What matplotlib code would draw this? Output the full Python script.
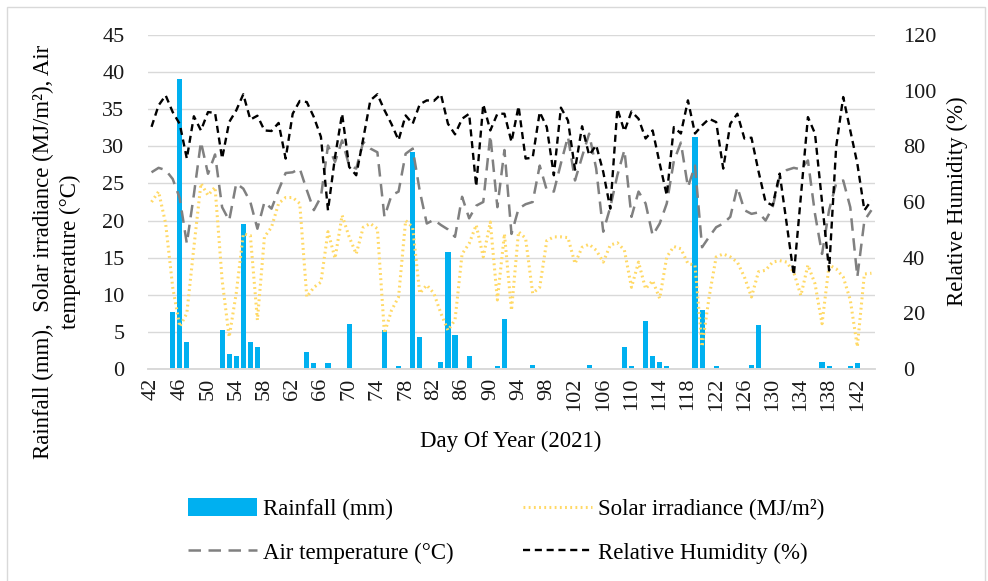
import matplotlib
matplotlib.use("Agg")
import matplotlib.pyplot as plt
from matplotlib.lines import Line2D
from matplotlib.patches import Patch, Rectangle

plt.rcParams["font.family"] = ["Liberation Serif", "DejaVu Serif"]

# Day of year 42..144 (2021)
days = list(range(42, 145))

rain_days = [45, 46, 47, 52, 53, 54, 55, 56, 57, 64, 65, 67, 70, 75, 77, 79, 80,
             83, 84, 85, 87, 91, 92, 96, 104, 109, 110, 112, 113, 114, 115, 119,
             120, 122, 127, 128, 137, 138, 141, 142]
rain_mm = [7.7, 39.1, 3.6, 5.2, 2.0, 1.8, 19.6, 3.6, 2.9, 2.3, 0.8, 0.8, 6.1, 5.2,
           0.4, 29.3, 4.3, 1.0, 15.7, 4.6, 1.8, 0.4, 6.7, 0.5, 0.5, 3.0, 0.4, 6.5,
           1.8, 1.0, 0.4, 31.2, 8.0, 0.4, 0.5, 5.9, 1.0, 0.4, 0.4, 0.8]

solar = [22.5, 23.9, 19.6, 11.0, 5.7, 7.5, 16.4, 25.0, 23.4, 24.5,
         12.0, 4.3, 10.2, 18.2, 18.0, 6.6, 17.8, 19.1, 22.3, 23.1,
         23.1, 22.3, 9.7, 11.0, 11.7, 18.5, 14.9, 20.7, 17.8, 15.5,
         19.1, 19.6, 18.9, 4.8, 7.9, 9.7, 20.0, 19.1, 10.2, 11.3,
         10.2, 7.5, 5.2, 6.6, 15.5, 16.9, 19.4, 15.1, 19.8, 9.3,
         18.2, 7.9, 18.5, 17.6, 10.2, 11.0, 17.3, 17.8, 17.8, 17.7,
         14.2, 16.4, 16.8, 16.0, 14.4, 16.7, 17.0, 16.0, 11.0, 14.4,
         10.8, 11.9, 9.5, 15.1, 16.5, 16.2, 14.2, 14.0, 3.0, 9.7,
         15.1, 15.5, 15.1, 14.4, 12.4, 9.7, 13.1, 13.3, 14.4, 14.6,
         14.4, 13.0, 9.9, 14.0, 11.5, 6.1, 14.0, 13.5, 12.4, 9.3,
         3.0, 12.8, 12.9]

air_temp = [26.5, 27.1, 26.8, 25.6, 23.0, 16.9, 23.5, 30.6, 26.3, 28.9,
            21.8, 20.0, 25.0, 24.3, 22.5, 18.9, 22.5, 21.6, 24.1, 26.4,
            26.5, 27.0, 24.1, 21.4, 23.2, 30.1, 27.9, 30.8, 27.4, 27.0,
            30.6, 29.7, 29.2, 20.5, 23.4, 23.9, 29.0, 29.7, 24.0, 19.6,
            20.1, 19.4, 18.8, 17.8, 23.2, 20.3, 22.0, 22.5, 31.5, 21.8,
            29.5, 18.2, 21.6, 22.2, 22.5, 27.4, 24.1, 23.9, 27.7, 31.3,
            25.4, 28.6, 31.7, 27.0, 18.5, 21.8, 26.1, 29.5, 20.5, 23.9,
            22.3, 18.0, 19.6, 22.3, 28.0, 30.5, 24.5, 27.4, 16.4, 17.8,
            19.1, 19.6, 20.5, 24.5, 21.4, 20.9, 21.1, 20.0, 21.8, 25.9,
            26.8, 27.1, 26.9, 28.1, 20.9, 15.5, 21.4, 25.0, 25.4, 21.8,
            12.4, 20.0, 21.4]

humidity = [87.0, 94.7, 98.3, 92.3, 88.0, 75.6, 90.8, 85.7, 92.3, 92.0,
            75.6, 88.7, 92.9, 98.7, 89.6, 91.0, 85.7, 85.5, 88.4, 75.6,
            91.7, 96.3, 95.9, 90.5, 83.4, 57.0, 76.2, 91.7, 72.6, 69.6,
            82.8, 96.5, 98.7, 93.0, 88.0, 82.2, 91.1, 88.1, 95.1, 96.5,
            96.3, 98.7, 88.1, 84.3, 89.9, 91.7, 65.6, 95.1, 85.7, 91.7,
            91.7, 81.6, 94.4, 75.6, 75.9, 92.3, 86.9, 69.6, 93.9, 89.3,
            71.6, 87.2, 76.8, 80.4, 70.8, 57.6, 93.5, 85.4, 92.5, 89.9,
            82.8, 85.7, 73.8, 62.4, 86.9, 84.6, 96.5, 84.6, 87.5, 89.9,
            88.7, 72.0, 88.1, 91.7, 82.8, 83.1, 71.0, 60.0, 58.8, 70.2,
            52.0, 33.7, 62.0, 90.5, 84.6, 60.0, 35.4, 79.8, 97.7, 85.7,
            73.8, 57.0, 60.6]

tick_days = list(range(42, 143, 4))

BLUE = "#00b0f0"
GOLD = "#ffd966"
GREY = "#808080"
GRID = "#d9d9d9"
FS = 16.5

fig = plt.figure(figsize=(9.88, 5.81), dpi=100)
ax = fig.add_axes([0.1498, 0.3649, 0.7358, 0.5749])
ax2 = ax.twinx()

# everything is positioned by category index, like a spreadsheet category axis
idx = {d: i for i, d in enumerate(days)}
x = list(range(len(days)))

ax.bar([idx[d] for d in rain_days], rain_mm, width=0.72, color=BLUE, zorder=2)
ax.plot(x, solar, color=GOLD, lw=2.2, ls=(0, (0.6, 1.1)), zorder=3)
ax.plot(x, air_temp, color=GREY, lw=1.8, ls=(0, (5, 3)), zorder=3)
ax2.plot(x, humidity, color="black", lw=1.7, ls=(0, (3, 2)), zorder=3)

ax.set_xlim(-0.5, len(days) - 0.5)
ax.set_ylim(0, 45)
ax.set_yticks(range(0, 46, 5))
ax2.set_ylim(0, 120)
ax2.set_yticks(range(0, 121, 20))
ax.set_xticks([idx[d] for d in tick_days])
ax.set_xticklabels([str(d) for d in tick_days], rotation=90)

ax.yaxis.grid(True, color=GRID, lw=1.0, zorder=0)
ax.set_axisbelow(True)
for a in (ax, ax2):
    for s in ("top", "right", "left"):
        a.spines[s].set_visible(False)
    a.spines["bottom"].set_color(GRID)
    a.spines["bottom"].set_linewidth(1.2)
    a.tick_params(axis="both", length=0, labelsize=16, colors="#1a1a1a")
ax.tick_params(axis="y", pad=17)
ax.tick_params(axis="x", pad=6)
ax2.tick_params(axis="y", pad=20)

fig.text(57 / 988, 1 - 252 / 581,
         "Rainfall (mm),  Solar irradiance (MJ/m\u00b2), Air\ntemperature (\u00b0C)",
         rotation=90, ha="center", va="center", multialignment="center",
         fontsize=FS, linespacing=1.4)
fig.text(957 / 988, 1 - 201 / 581, "Relative Humidity (%)", rotation=90,
         ha="center", va="center", fontsize=FS)
fig.text(511 / 988, 1 - 441 / 581, "Day Of Year (2021)", ha="center",
         va="center", fontsize=FS)

handles = [
    Patch(facecolor=BLUE, edgecolor="none"),
    Line2D([], [], color=GREY, lw=1.8, ls=(0, (5, 3))),
    Line2D([], [], color=GOLD, lw=2.2, ls=(0, (0.6, 1.1))),
    Line2D([], [], color="black", lw=1.7, ls=(0, (3, 2))),
]
labels = ["Rainfall (mm)", "Air temperature (\u00b0C)",
          "Solar irradiance (MJ/m\u00b2)", "Relative Humidity (%)"]
fig.legend(handles, labels, ncol=2, loc="center", frameon=False,
           bbox_to_anchor=(0.5125, 1 - 531 / 581), fontsize=FS,
           handlelength=3.0, handleheight=0.8, handletextpad=0.25,
           columnspacing=3.05, labelspacing=0.95)

# light chart frame
fig.add_artist(Rectangle((7 / 988, -0.01), 978 / 988, 1 - 7 / 581 + 0.01,
                         transform=fig.transFigure, fill=False,
                         edgecolor=GRID, lw=1.0))

fig.savefig("out.png", dpi=100, facecolor="white")
